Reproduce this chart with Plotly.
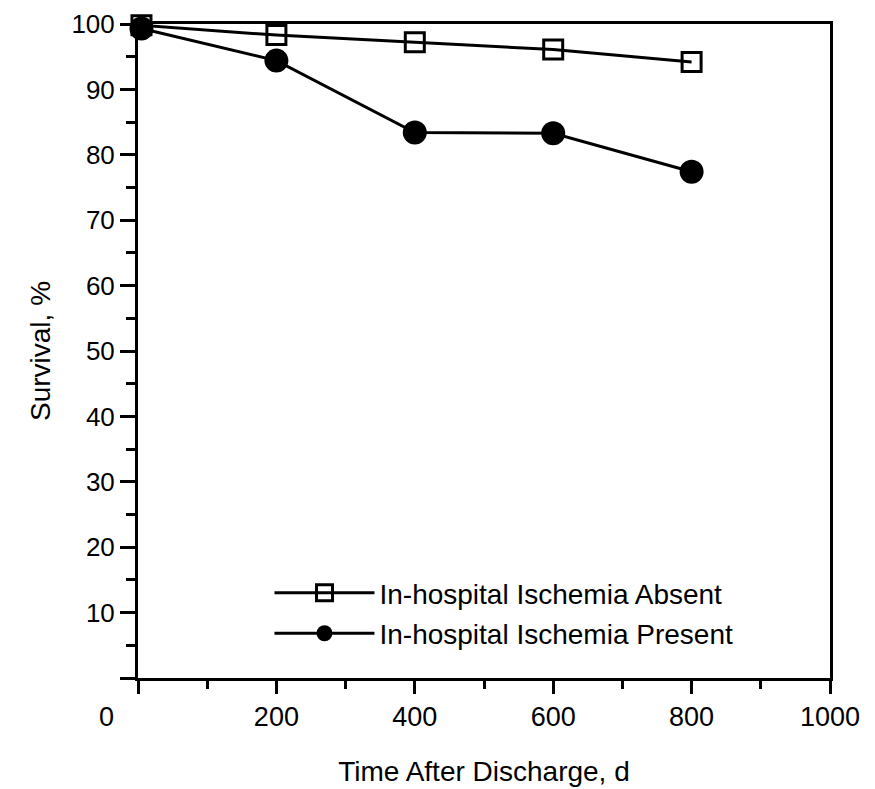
import plotly.graph_objects as go

days = [5, 200, 400, 600, 800]
absent = [99.8, 98.3, 97.2, 96.1, 94.2]
present = [99.3, 94.4, 83.4, 83.3, 77.4]

x_tickvals = [0, 200, 400, 600, 800, 1000]
x_ticktext = ["", "200", "400", "600", "800", "1000"]
y_tickvals = [0, 10, 20, 30, 40, 50, 60, 70, 80, 90, 100]
y_ticktext = [""] + [str(v) for v in y_tickvals[1:]]

FONT = "Liberation Sans, Arial, Helvetica, sans-serif"
FS = 27

fig = go.Figure()
fig.add_trace(go.Scatter(
    x=days, y=absent, mode="lines+markers", name="In-hospital Ischemia Absent",
    legendgroup="a",
    line=dict(color="black", width=3),
    marker=dict(symbol="square-open", size=19, color="black", line=dict(width=3)),
    cliponaxis=False,
))
fig.add_trace(go.Scatter(
    x=days, y=present, mode="lines+markers", name="In-hospital Ischemia Present",
    legendgroup="b",
    line=dict(color="black", width=3),
    marker=dict(symbol="circle", size=24, color="black"),
    cliponaxis=False,
))

fig.update_layout(
    width=875, height=789,
    margin=dict(l=130, r=53, t=16, b=119, autoexpand=False),
    paper_bgcolor="white", plot_bgcolor="white",
    font=dict(family=FONT, size=FS, color="black"),
    showlegend=True,
    legend=dict(x=0.19, y=0.168, xanchor="left", yanchor="top",
                bgcolor="rgba(0,0,0,0)", font=dict(size=28),
                itemwidth=100, tracegroupgap=1),
    xaxis=dict(range=[0, 1000], tickvals=x_tickvals, ticktext=x_ticktext,
               automargin=False, ticklabeloverflow="allow",
               showgrid=False, zeroline=False, showline=True, linecolor="black",
               linewidth=3, mirror=True, ticks="outside", ticklen=13, tickwidth=3,
               tickcolor="black",
               minor=dict(tickvals=[100, 300, 500, 700, 900], ticks="outside",
                          ticklen=8, tickwidth=3, tickcolor="black"),
               title=dict(text="Time After Discharge, d", standoff=30,
                          font=dict(size=28))),
    yaxis=dict(range=[0, 100], tickvals=y_tickvals, ticktext=y_ticktext,
               automargin=False, ticklabeloverflow="allow",
               tickfont=dict(size=26),
               showgrid=False, zeroline=False, showline=True, linecolor="black",
               linewidth=3, mirror=True, ticks="outside", ticklen=15, tickwidth=3,
               tickcolor="black",
               minor=dict(tickvals=[5, 15, 25, 35, 45, 55, 65, 75, 85, 95],
                          ticks="outside", ticklen=9, tickwidth=3, tickcolor="black"),
               title=dict(text="Survival, %", standoff=13, font=dict(size=28))),
)

fig.add_annotation(text="0", xref="paper", yref="paper", x=-0.046, y=-0.059,
                   xanchor="center", yanchor="middle", showarrow=False,
                   font=dict(size=FS))

fig.write_html("out.html")
